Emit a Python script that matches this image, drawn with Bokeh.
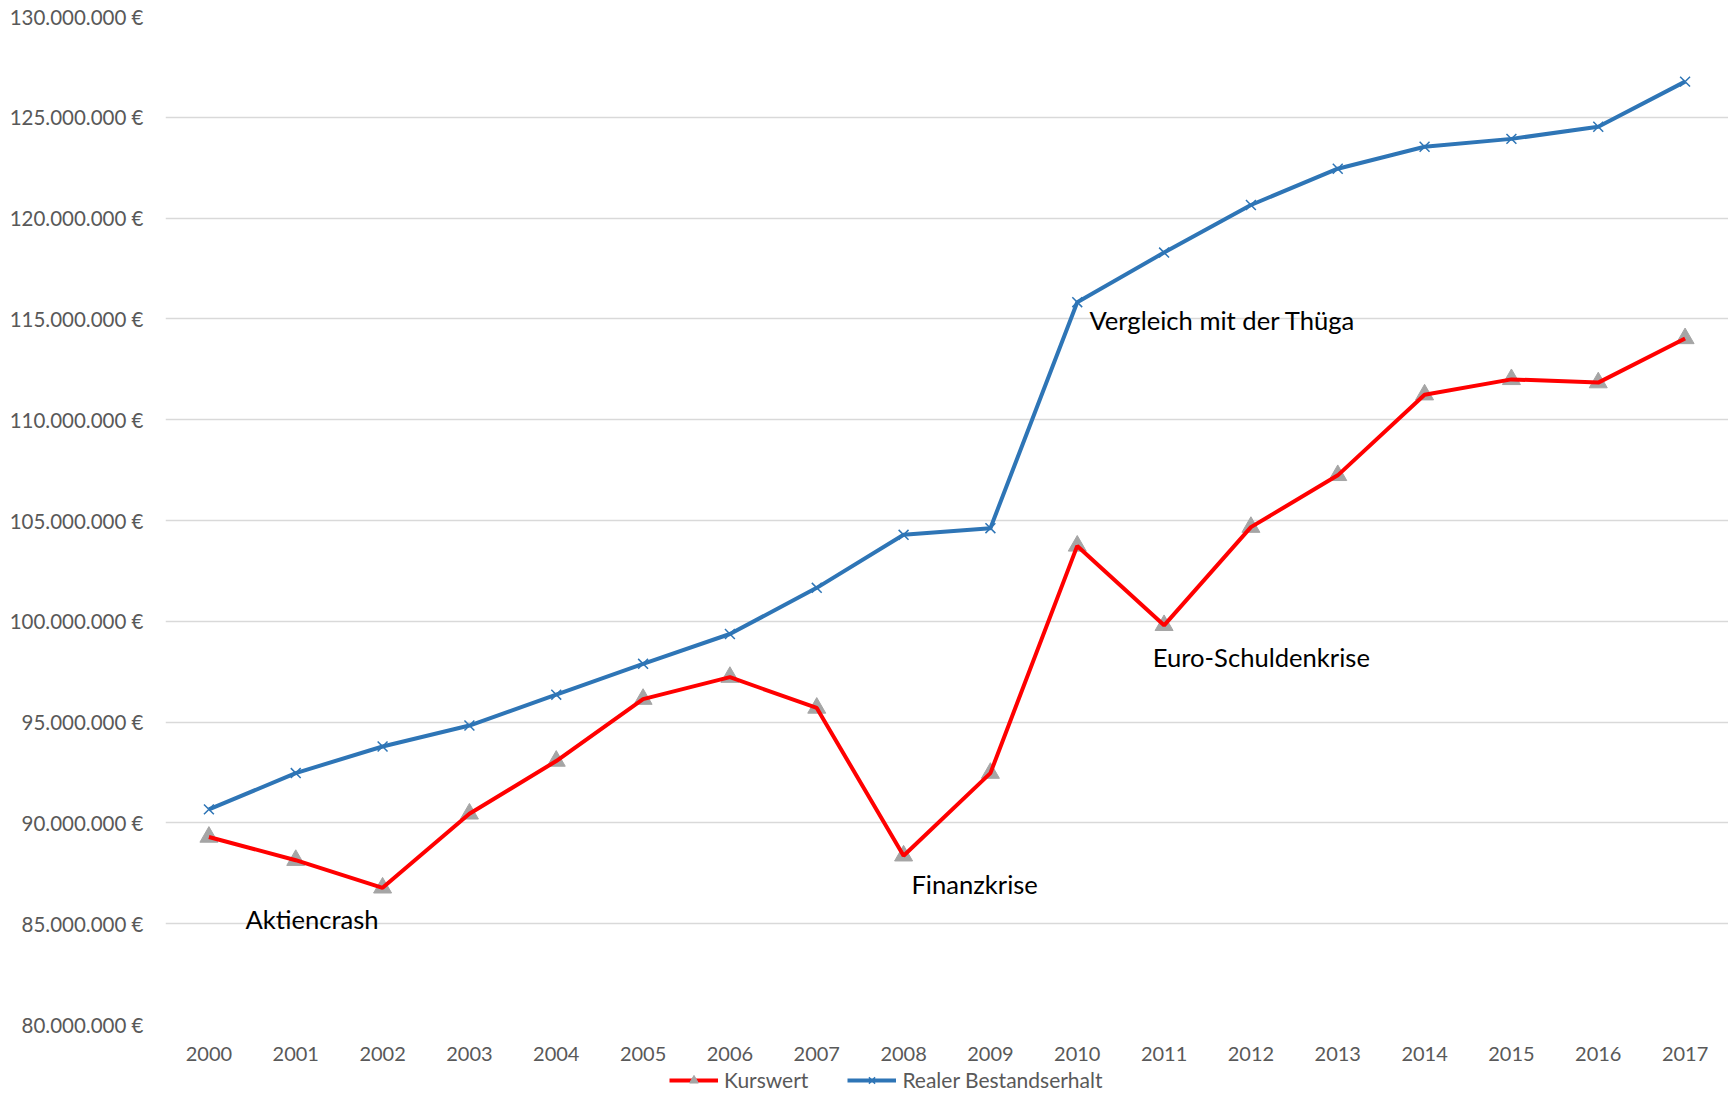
from bokeh.plotting import figure
from bokeh.layouts import column
from bokeh.models import FixedTicker, Legend, LegendItem, Range1d
from bokeh.embed import file_html
from bokeh.resources import INLINE
from bokeh.core.properties import value

years = list(range(2000, 2018))
kurswert = [89.30, 88.15, 86.78, 90.45, 93.07, 96.14, 97.23, 95.70, 88.37, 92.47,
            103.74, 99.80, 104.67, 107.24, 111.24, 112.00, 111.84, 114.03]
realer = [90.67, 92.47, 93.79, 94.83, 96.36, 97.89, 99.37, 101.66, 104.29, 104.62,
          115.83, 118.29, 120.65, 122.45, 123.54, 123.93, 124.53, 126.77]
kurswert = [v * 1_000_000 for v in kurswert]
realer = [v * 1_000_000 for v in realer]

y_ticks = [80_000_000 + 5_000_000 * i for i in range(11)]
y_tick_labels = {t: f"{t:,} €".replace(",", ".") for t in y_ticks}

ann_text = ["Aktiencrash", "Finanzkrise", "Vergleich mit der Thüga", "Euro-Schuldenkrise"]
ann_x = [2000.42, 2008.09, 2010.14, 2010.87]
ann_y = [85.21e6, 86.96e6, 114.96e6, 98.22e6]

series_names = ["Kurswert", "Realer Bestandserhalt"]

FONT = "Lato"
GRAY = "#595959"
RED = "#ff0000"
BLUE = "#2e75b6"
TRI = "#a5a5a5"

p = figure(width=1728, height=1064, output_backend="svg", toolbar_location=None,
           x_range=Range1d(1999.5, 2017.5), y_range=Range1d(80_000_000, 130_000_000),
           min_border_left=165, min_border_right=0, min_border_top=16, min_border_bottom=40)
p.outline_line_color = None
p.background_fill_color = "white"
p.border_fill_color = "white"

p.xgrid.grid_line_color = None
p.ygrid.grid_line_color = "#d9d9d9"
p.ygrid.grid_line_width = 1.3

p.yaxis.ticker = FixedTicker(ticks=y_ticks)
p.yaxis.major_label_overrides = y_tick_labels
p.xaxis.ticker = FixedTicker(ticks=years)
for ax in (p.xaxis, p.yaxis):
    ax.axis_line_color = None
    ax.major_tick_line_color = None
    ax.minor_tick_line_color = None
    ax.major_tick_out = 0
    ax.major_tick_in = 0
    ax.major_label_text_font = FONT
    ax.major_label_text_color = GRAY
p.yaxis.major_label_text_font_size = "20.5px"
p.xaxis.major_label_text_font_size = "20px"
p.yaxis.major_label_standoff = 22
p.xaxis.major_label_standoff = 22

p.scatter(years, kurswert, marker="triangle", size=18, fill_color=TRI, line_color=TRI)
p.line(years, kurswert, line_color=RED, line_width=4)
p.line(years, realer, line_color=BLUE, line_width=4)
p.scatter(years, realer, marker="x", size=14, line_color=BLUE, line_width=1.5)

p.text(x=ann_x, y=ann_y, text=ann_text, text_font=value(FONT), text_font_size="25.6px",
       text_baseline="middle", text_align="left", text_color="black")

# legend strip below the chart (its renderers sit outside the visible range)
lg = figure(width=1728, height=31, output_backend="svg", toolbar_location=None,
            x_range=Range1d(0, 1), y_range=Range1d(0, 1),
            min_border_left=0, min_border_right=0, min_border_top=0, min_border_bottom=0)
lg.axis.visible = False
lg.grid.visible = False
lg.outline_line_color = None
lg.border_fill_color = "white"
k_l = lg.line([5, 6], [5, 5], line_color=RED, line_width=4)
k_m = lg.scatter([5], [5], marker="triangle", size=18, fill_color=TRI, line_color=TRI)
r_l = lg.line([5, 6], [5, 5], line_color=BLUE, line_width=4)
r_m = lg.scatter([5], [5], marker="x", size=14, line_color=BLUE, line_width=1.5)

legend = Legend(items=[LegendItem(label=series_names[0], renderers=[k_l, k_m]),
                       LegendItem(label=series_names[1], renderers=[r_l, r_m])],
                orientation="horizontal", location=(504, 3), glyph_width=49, glyph_height=22,
                label_standoff=6, spacing=39, padding=0, margin=0, border_line_color=None,
                label_text_font=FONT, label_text_font_size="21px", label_text_color=GRAY,
                background_fill_alpha=0, label_height=22)
lg.add_layout(legend, "center")

open("out.html", "w").write(file_html(column(p, lg, spacing=0), INLINE))
